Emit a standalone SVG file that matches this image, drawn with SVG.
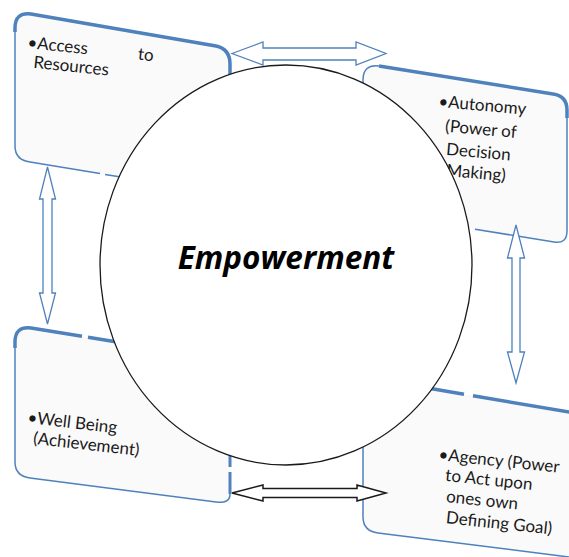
<svg xmlns="http://www.w3.org/2000/svg" width="569" height="557" viewBox="0 0 569 557">
<style>
.box{fill:#FAFAFA;stroke:none}
.thin{fill:none;stroke:#4F81BD;stroke-width:1.5}
.thick{fill:none;stroke:#4F81BD;stroke-width:3.5}
.lbl{font-family:Lato,"Liberation Sans",sans-serif;font-size:17px;fill:#1A1A1A}
.barrow{fill:#FFFFFF;stroke:#4F81BD;stroke-width:1.3}
.karrow{fill:#FFFFFF;stroke:#1A1A1A;stroke-width:1.5}
</style>
<rect width="569" height="557" fill="#FFFFFF"/>
<g id="node-access">
<path class="box" d="M15,28 Q15,12 31,14 L216,46 Q230,49 230,64 L230,195 L30,162 Q15,160 15,146 Z"/>
<path class="thin" d="M31,14 Q15,12 15,28 L15,146 Q15,160 30,162 L100,173.6 M105,174.4 L140,180"/>
<path class="thick" d="M15,32 L15,28 Q15,12 31,14 L216,46 Q230,49 230,64 L230,110"/>
<g class="lbl" transform="translate(27,48) rotate(6)">
<text x="0" y="0">•Access<tspan x="111">to</tspan></text>
<text x="8" y="19">Resources</text>
</g>
</g>
<g id="node-autonomy">
<path class="box" d="M363,80 Q363,64 379,66 L553,94 Q567,96 567,110 L567,231 Q567,244 554,242 L375,213 Q363,211 363,198 Z"/>
<path class="thin" d="M379,66 Q363,64 363,80 L363,110 M475,229.2 L554,242 Q567,244 567,231 L567,110"/>
<path class="thick" d="M379,66 L553,94 Q567,96 567,110 L567,118"/>
<g class="lbl" transform="translate(438,107) rotate(5)">
<text x="0" y="0">•Autonomy</text>
<text x="9" y="24">(Power of</text>
<text x="12" y="47">Decision</text>
<text x="14" y="68">Making)</text>
</g>
</g>
<g id="node-wellbeing">
<path class="box" d="M15,342 Q15,326 31,328 L230,360 L230,490 Q230,504 216,502 L30,478 Q15,476 15,462 Z"/>
<path class="thin" d="M15,342 L15,462 Q15,476 30,478 L216,502 Q230,504 230,494"/>
<path class="thick" d="M15,348 L15,342 Q15,326 31,328 L82,336.3 M88,337.3 L140,345.8"/>
<path class="thick" style="stroke-width:3" d="M230,494 L230,472 M230,467 L230,440"/>
<g class="lbl" transform="translate(27,423) rotate(6.5)">
<text x="0" y="0">•Well Being</text>
<text x="8" y="20">(Achievement)</text>
</g>
</g>
<g id="node-agency">
<path class="box" d="M363,377 L580,413.9 L580,558.4 L378,533 Q363,531 363,517 Z"/>
<path class="thin" d="M363,420 L363,517 Q363,531 378,533 L580,558.4"/>
<path class="thick" d="M400,383.3 L464,394.2 M473,395.8 L580,413.9"/>
<g class="lbl" transform="translate(438,460) rotate(6)">
<text x="0" y="0">•Agency (Power</text>
<text x="9" y="20">to Act upon</text>
<text x="12" y="41">ones own</text>
<text x="14" y="62">Defining Goal)</text>
</g>
</g>
<g id="node-empowerment">
<ellipse cx="286" cy="265" rx="186" ry="200" fill="#FFFFFF" stroke="#1A1A1A" stroke-width="1.3"/>
<text x="286" y="269" text-anchor="middle" font-family="'Open Sans','Liberation Sans',sans-serif" font-weight="bold" font-style="italic" font-size="31.5" fill="#000000">Empowerment</text>
</g>
<g id="connectors">
<polygon class="barrow" points="232,53.5 263,42 263,48 356,48 356,42 386,53.5 356,65 356,60 263,60 263,65"/>
<polygon class="karrow" points="232,493 263,485 263,488.5 357,488.5 357,485 386,493 357,501 357,497.5 263,497.5 263,501"/>
<polygon class="barrow" points="47.5,167 55.5,199 52,199 52,293 55.5,293 47.5,324 39.5,293 43,293 43,199 39.5,199"/>
<polygon class="barrow" points="516,225 524.5,258 520,258 520,352 524.5,352 516,383 507.5,352 512,352 512,258 507.5,258"/>
</g>
</svg>
